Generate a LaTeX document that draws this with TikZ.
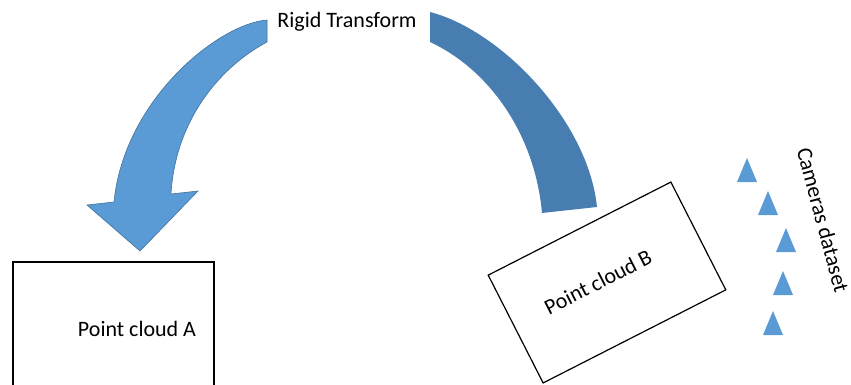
\documentclass[tikz,border=0pt]{standalone}
\usepackage{fontspec}
\setmainfont{Carlito}
\usetikzlibrary{arrows.meta, positioning}
\definecolor{rigidlight}{RGB}{91,155,213}
\definecolor{rigiddark}{RGB}{72,125,178}
\definecolor{rigidedge}{RGB}{65,113,156}

\begin{document}
\begin{tikzpicture}[x=0.5pt, y=-0.5pt,
    cloudbox/.style={draw, line width=0.6pt, inner sep=0pt},
    lbl/.style={font=\fontsize{11}{13}\selectfont, inner sep=1pt},
    cam/.style={fill=rigidlight}]
  \useasboundingbox (0,0) rectangle (851,385);
  \clip (0,0) rectangle (851,385);

  % curved arrow landing on cloud A, tapering towards its tail
  \fill[rigidlight, draw=rigidedge, line width=0.3pt]
    (267,20) .. controls (218,24) and (124,100) .. (114,202)
    -- (87,205) -- (140,251) -- (198,191) -- (171,194)
    .. controls (175,125) and (215,70) .. (267,42) -- cycle;

  % tail leaving cloud B
  \fill[rigiddark]
    (430,12) .. controls (500,30) and (588,120) .. (597,207)
    -- (542,213) .. controls (535,135) and (490,70) .. (430,42) -- cycle;

  \node[lbl] (rigid) at (347,22) {Rigid Transform};

  % the two point clouds
  \node[cloudbox, minimum width=100.5pt, minimum height=74pt] (cloudA) at (113.5,336) {};
  \node[lbl] (labelA) at (137,329) {Point cloud A};
  \node[cloudbox, rotate=27, minimum width=102.5pt, minimum height=60.5pt] (cloudB) at (607,282.5) {};
  \node[lbl, rotate=27] (labelB) at (598,282) {Point cloud B};

  % cameras
  \foreach \cx/\cy in {747/170, 768/203, 786/240, 783/283, 773/323} {
    \fill[cam] (\cx-10,\cy+12) -- (\cx,\cy-12) -- (\cx+10,\cy+12) -- cycle;
  }
  \node[lbl, rotate=-75] (cams) at (823,220) {Cameras dataset};
\end{tikzpicture}
\end{document}
